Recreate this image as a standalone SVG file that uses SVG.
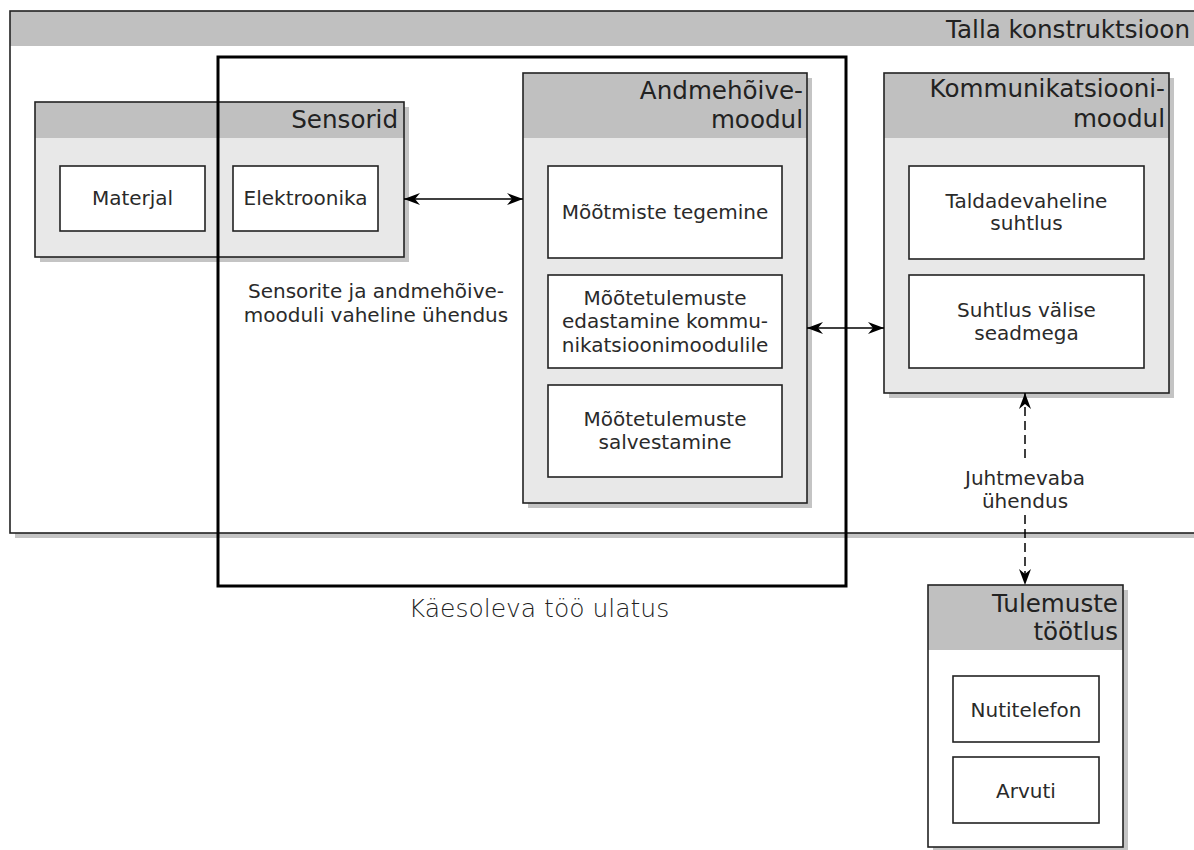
<svg xmlns="http://www.w3.org/2000/svg" width="1194" height="850" viewBox="0 0 1194 850">
<style>
.frame{stroke:#222;stroke-width:1.6}
.hdr{fill:#c0c0c0}
.body{fill:#e8e8e8}
.shadow{fill:#c4c4c4}
.box{fill:#fff;stroke:#222;stroke-width:1.6}
.ht{font-family:"DejaVu Sans",sans-serif;font-size:24.6px;fill:#222;text-anchor:end}
.t{font-family:"DejaVu Sans",sans-serif;font-size:20px;fill:#2a2a2a;text-anchor:middle}
.conn{stroke:#000;stroke-width:1.5;fill:none}
</style>
<defs>
<marker id="ah" viewBox="0 0 16 12" refX="16" refY="6" markerWidth="16" markerHeight="12" markerUnits="userSpaceOnUse" orient="auto-start-reverse">
<path d="M0,0 L16,6 L0,12 L5,6 z" fill="#000"/>
</marker>
</defs>
<rect width="1194" height="850" fill="#fff"/>

<g id="talla">
<rect class="shadow" x="15" y="16" width="1190" height="522"/>
<rect x="10" y="11" width="1190" height="522" fill="#fff"/>
<rect class="hdr" x="10" y="11" width="1190" height="35"/>
<rect x="10" y="11" width="1190" height="522" fill="none" class="frame"/>
<text class="ht" x="1190" y="38">Talla konstruktsioon</text>
</g>

<g id="sensorid">
<rect class="shadow" x="40" y="107" width="369" height="155"/>
<rect class="body" x="35" y="102" width="369" height="155"/>
<rect class="hdr" x="35" y="102" width="369" height="36"/>
<rect x="35" y="102" width="369" height="155" fill="none" class="frame"/>
<text class="ht" x="398" y="128">Sensorid</text>
</g>
<g id="materjal">
<rect class="box" x="60" y="166" width="145" height="65"/>
<text class="t" x="132.5" y="205">Materjal</text>
</g>
<g id="elektroonika">
<rect class="box" x="233" y="166" width="145" height="65"/>
<text class="t" x="305.5" y="205">Elektroonika</text>
</g>

<g id="andmehoive">
<rect class="shadow" x="528" y="78" width="284" height="430"/>
<rect class="body" x="523" y="73" width="284" height="430"/>
<rect class="hdr" x="523" y="73" width="284" height="65"/>
<rect x="523" y="73" width="284" height="430" fill="none" class="frame"/>
<text class="ht" x="803" y="99">Andmehõive-</text>
<text class="ht" x="803" y="128">moodul</text>
</g>
<g id="mootmiste">
<rect class="box" x="548" y="166" width="234" height="92"/>
<text class="t" x="665" y="219">Mõõtmiste tegemine</text>
</g>
<g id="edastamine">
<rect class="box" x="548" y="275" width="234" height="93"/>
<text class="t" x="665" y="305">Mõõtetulemuste</text>
<text class="t" x="665" y="328">edastamine kommu-</text>
<text class="t" x="665" y="352">nikatsioonimoodulile</text>
</g>
<g id="salvestamine">
<rect class="box" x="548" y="385" width="234" height="92"/>
<text class="t" x="665" y="426">Mõõtetulemuste</text>
<text class="t" x="665" y="449">salvestamine</text>
</g>

<g id="kommunikatsioon">
<rect class="shadow" x="889" y="78" width="285" height="320"/>
<rect class="body" x="884" y="73" width="285" height="320"/>
<rect class="hdr" x="884" y="73" width="285" height="65"/>
<rect x="884" y="73" width="285" height="320" fill="none" class="frame"/>
<text class="ht" x="1165" y="97">Kommunikatsiooni-</text>
<text class="ht" x="1165" y="127">moodul</text>
</g>
<g id="taldade">
<rect class="box" x="909" y="166" width="235" height="93"/>
<text class="t" x="1026.5" y="208">Taldadevaheline</text>
<text class="t" x="1026.5" y="230">suhtlus</text>
</g>
<g id="valise">
<rect class="box" x="909" y="275" width="235" height="93"/>
<text class="t" x="1026.5" y="317">Suhtlus välise</text>
<text class="t" x="1026.5" y="340">seadmega</text>
</g>

<g id="tulemuste">
<rect class="shadow" x="933" y="590" width="195" height="262"/>
<rect x="928" y="585" width="195" height="262" fill="#fff"/>
<rect class="hdr" x="928" y="585" width="195" height="65"/>
<rect x="928" y="585" width="195" height="262" fill="none" class="frame"/>
<text class="ht" x="1118" y="612">Tulemuste</text>
<text class="ht" x="1118" y="640">töötlus</text>
</g>
<g id="nutitelefon">
<rect class="box" x="953" y="676" width="146" height="66"/>
<text class="t" x="1026" y="717">Nutitelefon</text>
</g>
<g id="arvuti">
<rect class="box" x="953" y="757" width="146" height="66"/>
<text class="t" x="1026" y="798">Arvuti</text>
</g>

<g id="ulatus">
<rect x="218" y="57" width="628" height="529" fill="none" stroke="#000" stroke-width="3"/>
<text x="539" y="617" font-family="'DejaVu Sans',sans-serif" font-weight="200" font-size="25" fill="#222" text-anchor="middle">Käesoleva töö ulatus</text>
</g>

<g id="connectors">
<line class="conn" x1="404" y1="199" x2="523" y2="199" marker-start="url(#ah)" marker-end="url(#ah)"/>
<line class="conn" x1="807" y1="328" x2="884" y2="328" marker-start="url(#ah)" marker-end="url(#ah)"/>
<line class="conn" x1="1025" y1="393" x2="1025" y2="462" stroke-dasharray="9,5" marker-start="url(#ah)"/>
<line class="conn" x1="1025" y1="515" x2="1025" y2="585" stroke-dasharray="9,5" marker-end="url(#ah)"/>
<text class="t" x="376" y="298">Sensorite ja andmehõive-</text>
<text class="t" x="376" y="322">mooduli vaheline ühendus</text>
<text class="t" x="1025" y="485">Juhtmevaba</text>
<text class="t" x="1025" y="508">ühendus</text>
</g>
</svg>
